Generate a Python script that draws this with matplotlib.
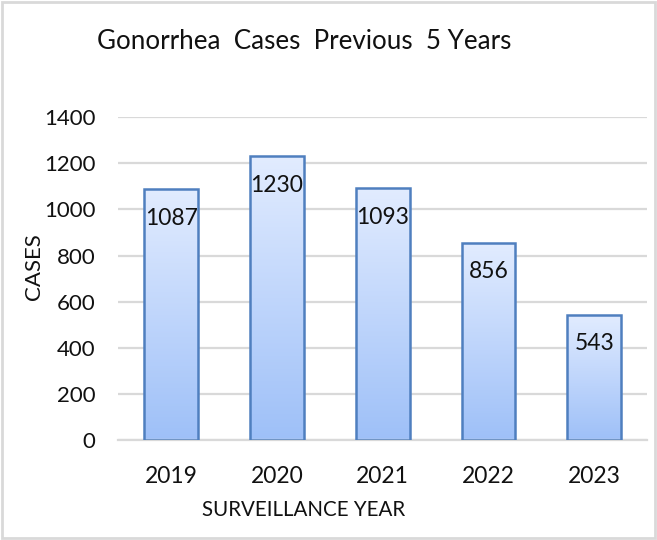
import matplotlib
matplotlib.use("Agg")
import matplotlib.pyplot as plt
import numpy as np
from matplotlib.patches import Rectangle
from matplotlib.colors import LinearSegmentedColormap

years = ["2019", "2020", "2021", "2022", "2023"]
cases = [1087, 1230, 1093, 856, 543]
yticks = [0, 200, 400, 600, 800, 1000, 1200, 1400]

plt.rcParams['font.family'] = ['Lato', 'DejaVu Sans']

fig = plt.figure(figsize=(6.57, 5.4), dpi=100)
ax = fig.add_axes([0.18, 0.185, 0.805, 0.598])

x = np.arange(len(years))
bars = ax.bar(x, cases, width=0.51, color='none', edgecolor='#4f7fbf', linewidth=1.8, zorder=3)

cmap = LinearSegmentedColormap.from_list('g', ['#9ec0f8', '#e2ecff'])
grad = np.linspace(0, 1, 256).reshape(-1, 1)
for b in bars:
    x0, y0 = b.get_x(), b.get_y()
    w, h = b.get_width(), b.get_height()
    im = ax.imshow(grad, cmap=cmap, origin='lower', aspect='auto',
                   extent=[x0, x0 + w, y0, y0 + h], zorder=2)
    im.set_clip_path(b)

for xi, v in zip(x, cases):
    ax.text(xi, v - 126, str(v), ha='center', va='center', fontsize=16.5, color='#111111', zorder=4)

ax.set_xlim(-0.5, len(years) - 0.5)
ax.set_ylim(0, 1400)
ax.set_yticks(yticks)
ax.set_xticks(x)
ax.set_xticklabels(years)
ax.tick_params(axis='both', length=0, labelsize=16, colors='#111111')
ax.tick_params(axis='x', pad=19, labelsize=16.5)
ax.tick_params(axis='y', pad=16.5)
ax.grid(axis='y', color='#d9d9d9', linewidth=1.6, zorder=0)
ax.set_axisbelow(True)
for s in ['top', 'right', 'left']:
    ax.spines[s].set_visible(False)
ax.spines['bottom'].set_color('#d9d9d9')
ax.spines['bottom'].set_linewidth(1.6)

ax.set_xlabel('SURVEILLANCE YEAR', fontsize=14.8, labelpad=4, color='#111111')
ax.set_ylabel('CASES', fontsize=16, labelpad=6, color='#111111')
ax.xaxis.set_label_coords(0.5 + (303 - 382.5) / 529.0, (440 - 510) / 323.0)
ax.yaxis.set_label_coords((34 - 118) / 529.0, (440 - 266) / 323.0)
ax.xaxis.label.set_va('center')
ax.yaxis.label.set_va('center')

fig.text(97 / 657, 1 - 42 / 540, 'Gonorrhea  Cases  Previous  5 Years', fontsize=18.7, ha='left', va='center', color='#111111')

fig.patches.append(Rectangle((0.003, 0.003), 0.994, 0.994, transform=fig.transFigure,
                             fill=False, edgecolor='#d9d9d9', linewidth=2))

fig.savefig('out.png', dpi=100)
